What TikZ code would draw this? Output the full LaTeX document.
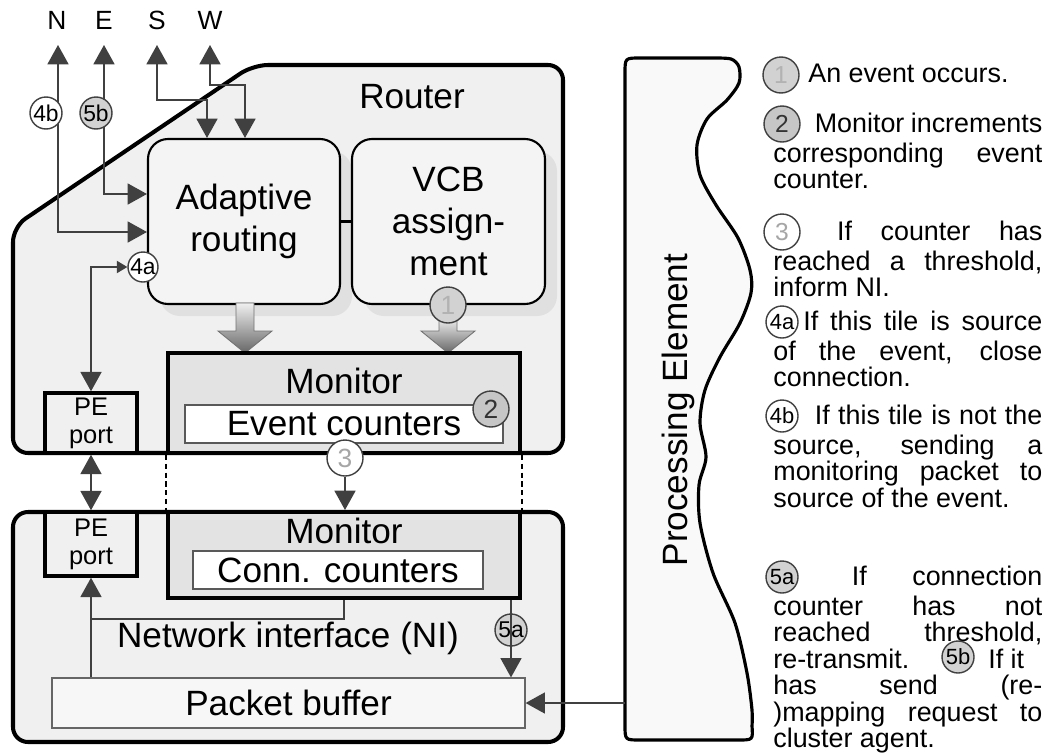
\documentclass[tikz,border=0pt]{standalone}
\usepackage{fontspec}
\setmainfont{Liberation Sans}
\usetikzlibrary{arrows.meta,shadows}

\newcommand{\jline}[1]{\makebox[53.8mm][s]{#1}}

\begin{document}
\begin{tikzpicture}[x=0.2mm,y=-0.2mm,>={Triangle[length=11pt,width=12pt]}]
    \tikzstyle{outerbox}=[draw,line width=2.3pt,rounded corners=3mm,fill=gray!12]
    \tikzstyle{unitbox}=[draw,line width=1.2pt,rounded corners=4mm,fill=gray!9,inner sep=0pt,
        drop shadow={shadow xshift=2.4mm,shadow yshift=-2.4mm,fill=gray!35},
        align=center,font=\fontsize{20}{24}\selectfont]
    \tikzstyle{monbox}=[draw,line width=2.3pt,fill=gray!22,inner sep=0pt,minimum width=70.4mm]
    \tikzstyle{cntbox}=[draw=black!65,line width=0.7pt,fill=white,inner sep=0pt,minimum height=7.6mm,font=\fontsize{20}{24}\selectfont]
    \tikzstyle{portbox}=[draw,line width=2pt,fill=gray!12,inner sep=0pt,minimum width=18.4mm,align=center,font=\fontsize{14.5}{16}\selectfont]
    \tikzstyle{bufbox}=[draw=black!60,line width=0.7pt,fill=gray!6,inner sep=0pt,font=\fontsize{20}{24}\selectfont]
    \tikzstyle{lbl}=[font=\fontsize{20}{24}\selectfont]
    \tikzstyle{dirlbl}=[font=\fontsize{15}{15}\selectfont]
    \tikzstyle{wire}=[draw=black!75,line width=0.75pt]
    \tikzstyle{dotwire}=[draw=black,line width=1.6pt,dash pattern=on 3pt off 2pt]
    \tikzstyle{bigarrow}=[draw=black!55,line width=0.5pt,top color=gray!12,bottom color=black!60]
    \tikzstyle{evnum}=[circle,draw=black!75,line width=0.8pt,inner sep=0pt]
    \tikzstyle{bignum}=[evnum,minimum size=7.2mm,font=\fontsize{15}{15}\selectfont]
    \tikzstyle{smallnum}=[evnum,minimum size=6.4mm,font=\fontsize{13}{13}\selectfont]
    \tikzstyle{note}=[anchor=north west,inner sep=0pt,align=left,font=\fontsize{15.3}{15.1}\selectfont]

    \useasboundingbox (0,0) rectangle (1048,754);

    \draw[outerbox] (253,65) -- (563,65) -- (563,453) -- (13,453) -- (13,227) -- cycle;
    \draw[outerbox] (13,512) rectangle (563,742);
    \draw[line width=1.8pt,fill=gray!5] (640,58) -- plot[smooth] coordinates {(712,58) (731,59) (739,67)
        (739,83) (727,100) (707,119) (697,145) (700,175) (716,205) (738,238) (750,270)
        (751,293) (740,323) (720,357) (705,390) (700,423) (706,457) (699,485) (700,523)
        (713,573) (735,623) (747,673) (752,710) (752,726)}
        .. controls (753,740) .. (738,740) -- (640,740) .. controls (625,740) .. (625,725)
        -- (625,73) .. controls (625,58) .. (640,58) -- cycle;

    \node[lbl] (router) at (412,97) {Router};
    \node[rotate=90,font=\fontsize{20}{22}\selectfont] (pe) at (678,410) {Processing Element};

    \node[unitbox,minimum width=38.4mm,minimum height=33mm] (adapt) at (244,221.5) {Adaptive\\routing};
    \node[unitbox,minimum width=38.6mm,minimum height=33mm] (vcb) at (448.5,221.5) {VCB\\assign-\\ment};
    \draw[line width=1.2pt] (adapt) -- (vcb);

    \path[bigarrow] (236,303) -- (254,303) -- (254,331) -- (272,331) -- (245,353) -- (218,331) -- (236,331) -- cycle;
    \path[bigarrow] (439,318) -- (457,318) -- (457,331) -- (475,331) -- (448,353) -- (421,331) -- (439,331) -- cycle;

    \node[monbox,minimum height=20mm] (mon_r) at (344,403) {};
    \node[lbl] (mon_r_t) at (344,380.5) {Monitor};
    \node[cntbox,minimum width=63.6mm] (ev_cnt) at (344,424) {Event counters};

    \node[monbox,minimum height=17.2mm] (mon_n) at (344,555) {};
    \node[lbl] (mon_n_t) at (344,530.5) {Monitor};
    \node[cntbox,minimum width=58mm] (conn_cnt) at (338,570) {Conn. counters};

    \node[portbox,minimum height=12mm] (pe_r) at (91,423) {PE\\port};
    \node[portbox,minimum height=12.8mm] (pe_n) at (91,544) {PE\\port};

    \node[bufbox,minimum width=94.6mm,minimum height=10mm] (buf) at (288.5,703) {Packet buffer};
    \node[lbl] (ni) at (288,638) {Network interface (NI)};

    \node[dirlbl] (dir_n) at (57,20) {N};
    \node[dirlbl] (dir_e) at (104,20) {E};
    \node[dirlbl] (dir_s) at (157,20) {S};
    \node[dirlbl] (dir_w) at (210,20) {W};

    \coordinate (n_top) at (58,45);
    \coordinate (e_top) at (104,45);
    \coordinate (s_top) at (157,45);
    \coordinate (w_top) at (210,45);
    \coordinate (s_bend) at (207,100);
    \coordinate (w_bend) at (245,85);
    \coordinate (ni_join) at (91,619);
    \coordinate (pe_in) at (625,703);

    \draw[wire,<->] (n_top) |- (adapt.west |- 0,232);
    \draw[wire,<->] (e_top) |- (adapt.west |- 0,194);
    \draw[wire,<->] (s_top) |- (s_bend) -- (s_bend |- adapt.north);
    \draw[wire,<->] (w_top) |- (w_bend) -- (w_bend |- adapt.north);

    \node[smallnum,fill=white,minimum size=6mm] (m4a) at (143,267) {4a};
    \draw[wire,{Triangle[length=11pt,width=12pt]}-{Triangle[length=6pt,width=7pt]}] (pe_r.north) |- (m4a.west);
    \draw[wire,<->] (pe_r) -- (pe_n);

    \node[bignum,fill=white,text=gray!70] (m3) at (345,458) {3};
    \draw[wire,->] (m3) -- (mon_n.north -| m3);
    \draw[dotwire] (mon_r.south west) -- (mon_n.north west);
    \draw[dotwire] (mon_r.south east) -- (mon_n.north east);

    \draw[wire] (mon_n.south) |- (ni_join);
    \draw[wire,->] (buf.north -| pe_n) -- (pe_n.south);
    \node[smallnum,fill=gray!35] (m5a) at (511,630) {5a};
    \draw[wire,->] (mon_n.south -| m5a) -- (buf.north -| m5a);
    \draw[wire,->] (pe_in) -- (buf.east);

    \node[smallnum,fill=white] (m4b) at (46,113) {4b};
    \node[smallnum,fill=gray!35] (m5b) at (96,113) {5b};
    \node[bignum,fill=gray!35,text=gray!60] (m1) at (448,305) {1};
    \node[bignum,fill=gray!45,text=black!80] (m2) at (491,409) {2};

    \node[note] (note1) at (773,64) {\strut\hspace*{7mm}An event occurs.};
    \node[note] (note2) at (773,113) {\jline{\strut\hspace*{7mm}\ Monitor increments}\\\jline{corresponding event}\\counter.};
    \node[note] (note3) at (773,221) {\jline{\strut\hspace*{7mm}\ If counter has}\\\jline{reached a threshold,}\\inform NI.};
    \node[note] (note4) at (773,311) {\jline{\strut\hspace*{6mm}If this tile is source}\\\jline{of the event, close}\\connection.};
    \node[note] (note5) at (773,405) {\jline{\strut\hspace*{6.6mm}\ If this tile is not the}\\\jline{source, sending a}\\\jline{monitoring packet to}\\source of the event.};
    \node[note] (note6) at (773,566) {\jline{\strut\hspace*{6.6mm}\ If connection}\\\jline{counter has not}\\\jline{reached threshold,}\\re-transmit.\hspace*{15.8mm}If it\\\jline{has send (re-}\\\jline{)mapping request to}\\cluster agent.};

    \node[evnum,minimum size=7.2mm,fill=gray!35,text=gray!60,font=\fontsize{14}{14}\selectfont] (m1_r) at (781,75) {1};
    \node[evnum,minimum size=7.2mm,fill=gray!45,text=black!80,font=\fontsize{14}{14}\selectfont] (m2_r) at (782,124) {2};
    \node[evnum,minimum size=7.2mm,fill=white,text=gray!70,font=\fontsize{14}{14}\selectfont] (m3_r) at (782,232) {3};
    \node[evnum,minimum size=6.4mm,fill=white,font=\fontsize{12.5}{12.5}\selectfont] (m4a_r) at (782,322) {4a};
    \node[evnum,minimum size=6.4mm,fill=white,font=\fontsize{12.5}{12.5}\selectfont] (m4b_r) at (782,416) {4b};
    \node[evnum,minimum size=6.4mm,fill=gray!35,font=\fontsize{12.5}{12.5}\selectfont] (m5a_r) at (782,577) {5a};
    \node[evnum,minimum size=6.4mm,fill=gray!35,font=\fontsize{12.5}{12.5}\selectfont] (m5b_r) at (958,657) {5b};
\end{tikzpicture}
\end{document}
